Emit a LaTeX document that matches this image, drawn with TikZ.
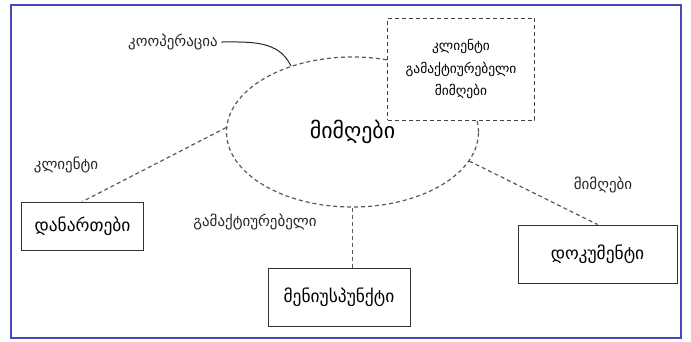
\documentclass[tikz,border=0pt]{standalone}
\usepackage{fontspec}
\setmainfont{DejaVu Sans}
\usetikzlibrary{shapes.geometric}
\definecolor{framecol}{RGB}{72,72,184}
\tikzset{
  partbox/.style={rectangle,draw=black!80,line width=1bp,fill=white,
                  align=center,font=\fontsize{17.5}{20}\selectfont},
  rolebox/.style={rectangle,draw=black!75,line width=1bp,fill=white,
                  dash pattern=on 4bp off 3bp,align=center,
                  font=\fontsize{13.5}{23}\selectfont},
  collab/.style={ellipse,draw=black!65,line width=1.2bp,
                 dash pattern=on 4bp off 3bp,font=\fontsize{22}{26}\selectfont},
  rolelabel/.style={font=\fontsize{15}{18}\selectfont,text=black!85},
  link/.style={draw=black!65,line width=1.2bp,dash pattern=on 4bp off 3bp},
  outerframe/.style={draw=framecol,line width=2bp},
}
\begin{document}
\begin{tikzpicture}[x=1bp,y=-1bp]
  \useasboundingbox (0,0) rectangle (691,341);
  \draw[outerframe] (11,5) rectangle (681,338);

  % collaboration and its parts
  \node[collab,minimum width=252bp,minimum height=150bp] (rec) at (352.5,132) {მიმღები};
  \node[rolebox,minimum width=147bp,minimum height=102bp] (act) at (461,69)
       {კლიენტი\\გამაქტიურებელი\\მიმღები};
  \node[partbox,minimum width=121bp,minimum height=48bp] (att)  at (82.5,226) {დანართები};
  \node[partbox,minimum width=142bp,minimum height=58bp] (menu) at (339,297) {მენიუსპუნქტი};
  \node[partbox,minimum width=159bp,minimum height=58bp] (doc)  at (597.5,254) {დოკუმენტი};

  % role names
  \node[rolelabel] (coop)   at (173,42)  {კოოპერაცია};
  \node[rolelabel] (client) at (66,165)  {კლიენტი};
  \node[rolelabel] (activ)  at (255,222) {გამაქტიურებელი};
  \node[rolelabel] (recv)   at (603,185) {მიმღები};

  % connectors
  \draw[black!85,line width=1bp] (coop.east) to[out=0,in=115] (rec.133);
  \draw[link] (rec.178) -- (att.north);
  \draw[link] (rec.south) -- (rec.south |- menu.north);
  \draw[link] (rec.-14) -- (doc.north);
\end{tikzpicture}
\end{document}
